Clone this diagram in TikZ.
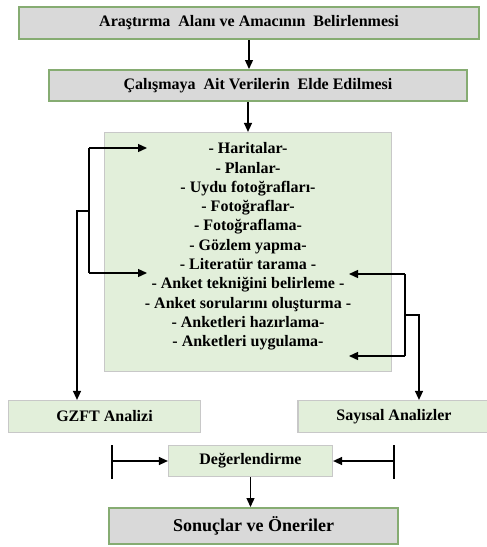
\documentclass[tikz,border=0pt]{standalone}
\usepackage{fontspec}
\setmainfont{Liberation Serif}
\usepackage{tikz}
\usetikzlibrary{positioning,arrows.meta}
\usepackage{xcolor}
\definecolor{stepgreen}{HTML}{86AC72}
\definecolor{stepgrey}{HTML}{D9D9D9}
\definecolor{itemgreen}{HTML}{E2EFDA}
\definecolor{itemedge}{HTML}{C8C8C8}
\tikzset{
  mainbox/.style={draw=stepgreen, line width=2pt, fill=stepgrey, inner sep=0pt,
    font=\bfseries\fontsize{16}{19}\selectfont},
  subbox/.style={draw=itemedge, line width=1.2pt, fill=itemgreen, inner sep=0pt,
    font=\bfseries\fontsize{16}{19}\selectfont},
  flow/.style={line width=1.3pt, -{Triangle[length=9pt,width=8pt]}},
  link/.style={line width=1.3pt}
}

\begin{document}
\begin{tikzpicture}[x=1pt,y=-1pt]
\useasboundingbox (0,0) rectangle (487,547);

\node[mainbox,minimum width=460pt,minimum height=32pt] (aim) at (249,23) {Araştırma\ \ Alanı ve Amacının\ \ Belirlenmesi};
\node[mainbox,minimum width=418pt,minimum height=31pt] (data) at (258,85.5) {Çalışmaya\ \ Ait Verilerin\ \ Elde Edilmesi};
\node[subbox,minimum width=287pt,minimum height=239pt] (list) at (248,252) {};
\node[align=center,font=\bfseries\fontsize{16}{19.3}\selectfont] (items) at ([yshift=5.5pt]list.center)
  {- Haritalar-\\- Planlar-\\- Uydu fotoğrafları-\\- Fotoğraflar-\\- Fotoğraflama-\\- Gözlem yapma-\\
   - Literatür tarama -\\- Anket tekniğini belirleme -\\- Anket sorularını oluşturma -\\
   - Anketleri hazırlama-\\- Anketleri uygulama-};
\node[subbox,minimum width=192pt,minimum height=32pt] (swot) at (104.5,416.5) {GZFT Analizi};
\node[subbox,minimum width=192pt,minimum height=32pt] (stats) at (394,416.5) {Sayısal Analizler};
\node[subbox,minimum width=164pt,minimum height=31pt] (eval) at (250.5,461) {Değerlendirme};
\node[mainbox,minimum width=289pt,minimum height=36pt,font=\bfseries\fontsize{18}{21}\selectfont] (result) at (253.5,526) {Sonuçlar ve Öneriler};

% free ends of the side links
\coordinate (ltop) at (89,148);
\coordinate (lbot) at (89,273);
\coordinate (ljoin) at (89,211);
\coordinate (lbend) at (77,211);
\coordinate (lin1) at (147,148);
\coordinate (lin2) at (147,273);
\coordinate (rtop) at (405,274);
\coordinate (rbot) at (405,356);
\coordinate (rjoin) at (405,315);
\coordinate (rbend) at (419,315);
\coordinate (rin1) at (349,274);
\coordinate (rin2) at (349,356);
\coordinate (ltickA) at (112,445);
\coordinate (ltickB) at (112,479);
\coordinate (rtickA) at (394,445);
\coordinate (rtickB) at (394,479);

\draw[flow] (aim.south) -- (aim.south |- data.north);
\draw[flow] (data.south -| list.north) -- (list.north);
\draw[flow] (eval.south) -- (eval.south |- result.north);

\draw[link] (ltop) -- (lbot);
\draw[flow] (ltop) -- (lin1);
\draw[flow] (lbot) -- (lin2);
\draw[flow] (ljoin) -- (lbend) -- (lbend |- swot.north);

\draw[link] (rtop) -- (rbot);
\draw[flow] (rtop) -- (rin1);
\draw[flow] (rbot) -- (rin2);
\draw[flow] (rjoin) -- (rbend) -- (rbend |- stats.north);

\draw[link] (ltickA) -- (ltickB);
\draw[link] (rtickA) -- (rtickB);
\draw[flow] (ltickA |- eval.west) -- (eval.west);
\draw[flow] (rtickA |- eval.east) -- (eval.east);
\end{tikzpicture}
\end{document}
